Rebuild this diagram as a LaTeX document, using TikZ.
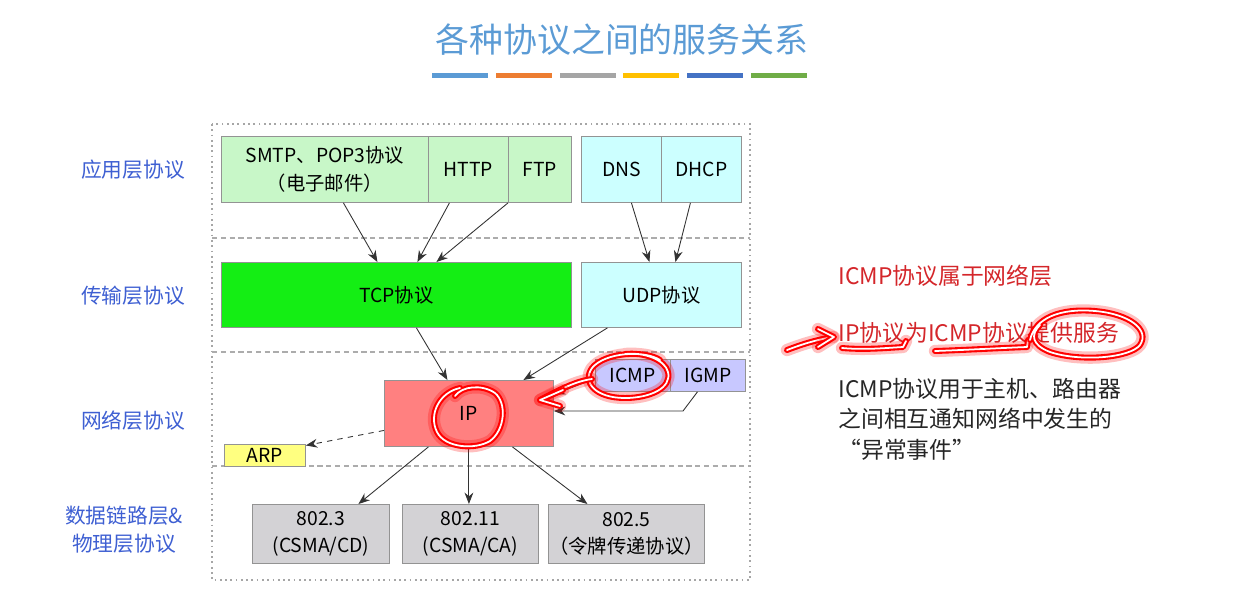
\documentclass[tikz,border=0pt]{standalone}
\usepackage{fontspec}
\setmainfont{Noto Sans CJK SC}
\usepackage{tikz}
\usetikzlibrary{arrows.meta}

\definecolor{titleblue}{RGB}{91,155,213}
\definecolor{layerblue}{RGB}{62,95,210}
\definecolor{appgreen}{RGB}{200,247,200}
\definecolor{appcyan}{RGB}{204,255,255}
\definecolor{tcpgreen}{RGB}{20,238,20}
\definecolor{ipred}{RGB}{255,128,128}
\definecolor{icmpblue}{RGB}{200,200,255}
\definecolor{arpyellow}{RGB}{255,255,128}
\definecolor{phygray}{RGB}{211,210,213}
\definecolor{notered}{RGB}{212,38,42}
\definecolor{barblue}{RGB}{91,155,213}
\definecolor{barorange}{RGB}{237,125,49}
\definecolor{bargray}{RGB}{165,165,165}
\definecolor{baryellow}{RGB}{255,192,0}
\definecolor{bardark}{RGB}{68,114,196}
\definecolor{bargreen}{RGB}{112,173,71}

\begin{document}
\begin{tikzpicture}[x=0.02cm, y=-0.02cm, >={Stealth[length=6.5pt, width=5pt]},
    box/.style={draw=gray!85, line width=0.5pt, anchor=north west, inner sep=0pt, align=center, font=\fontsize{11}{15.6}\selectfont},
    appbox/.style={box, fill=appgreen, minimum height=1.32cm},
    dnsbox/.style={box, fill=appcyan, minimum height=1.32cm},
    phybox/.style={box, fill=phygray, minimum height=1.18cm},
    layer/.style={text=layerblue, align=center, font=\fontsize{11.8}{15.8}\selectfont},
    note/.style={anchor=west, inner sep=0pt, align=left, font=\fontsize{13}{17.3}\selectfont},
    link/.style={->, draw=black!80, line width=0.5pt},
    scribble/.style={draw=red, line width=1.2pt, double=white, double distance=1pt, line cap=round, line join=round,
        preaction={draw=red, draw opacity=0.25, line width=7pt, line cap=round, line join=round}}]
    \useasboundingbox (0,0) rectangle (1250,596);

    \node [text=titleblue, font=\fontsize{19.3}{22}\selectfont] (title) at (622,40) {各种协议之间的服务关系};
    \foreach \c [count=\i] in {barblue, barorange, bargray, baryellow, bardark, bargreen}
        \fill [\c] ({432+(\i-1)*63.8},73) rectangle ++(56,5);

    \draw [gray!70, line width=0.6pt, dash pattern=on 1pt off 2pt] (212,124) rectangle (750,580);
    \foreach \y in {238, 352, 466}
        \draw [gray!65, line width=0.6pt, dash pattern=on 3pt off 2pt] (212,\y) -- (750,\y);

    \node [layer] (app) at (133,170) {应用层协议};
    \node [layer] (trans) at (133,296) {传输层协议};
    \node [layer] (net) at (133,421) {网络层协议};
    \node [layer] (link) at (124,530) {数据链路层\&\\物理层协议};

    \node [appbox, minimum width=4.14cm] (smtp) at (221,136) {SMTP、POP3协议\\（电子邮件）};
    \node [appbox, minimum width=1.6cm] (http) at (428,136) {HTTP};
    \node [appbox, minimum width=1.26cm] (ftp) at (508,136) {FTP};
    \node [dnsbox, minimum width=1.6cm] (dns) at (581,136) {DNS};
    \node [dnsbox, minimum width=1.6cm] (dhcp) at (661,136) {DHCP};

    \node [box, fill=tcpgreen, minimum width=7cm, minimum height=1.3cm] (tcp) at (221,262) {TCP协议};
    \node [box, fill=appcyan, minimum width=3.2cm, minimum height=1.3cm] (udp) at (581,262) {UDP协议};

    \node [box, fill=ipred, minimum width=3.38cm, minimum height=1.32cm] (ip) at (384,380) {IP};
    \node [box, fill=icmpblue, minimum width=1.5cm, minimum height=0.64cm] (icmp) at (595,359) {ICMP};
    \node [box, fill=icmpblue, minimum width=1.5cm, minimum height=0.64cm] (igmp) at (670,359) {IGMP};
    \node [box, fill=arpyellow, minimum width=1.62cm, minimum height=0.44cm] (arp) at (224,444) {ARP};

    \node [phybox, minimum width=2.74cm] (eth) at (252,504) {802.3\\(CSMA/CD)};
    \node [phybox, minimum width=2.72cm] (wifi) at (402,504) {802.11\\(CSMA/CA)};
    \node [phybox, minimum width=3.12cm] (ring) at (548,504) {802.5\\（令牌传递协议）};

    \draw [link] ([xshift=0.37cm]smtp.south) -- ([xshift=-0.38cm]tcp.north);
    \draw [link] ([xshift=-0.38cm]http.south) -- ([xshift=0.42cm]tcp.north);
    \draw [link] (ftp.south west) -- ([xshift=0.8cm]tcp.north);
    \draw [link] ([xshift=0.2cm]dns.south) -- ([xshift=-0.24cm]udp.north);
    \draw [link] ([xshift=-0.22cm]dhcp.south) -- ([xshift=0.28cm]udp.north);
    \draw [link] ([xshift=0.4cm]tcp.south) -- ([xshift=-0.43cm]ip.north);
    \draw [link] ([xshift=-1.08cm]udp.south) -- ([xshift=1.09cm]ip.north);
    \draw [link] ([yshift=-0.06cm]icmp.west) -- ([yshift=0.38cm]ip.east);
    \coordinate (bend) at (683,411);
    \draw [link] ([xshift=-0.21cm]igmp.south) -- (bend) -- (bend -| ip.east);
    \draw [link, dashed] ([yshift=-0.34cm]ip.west) -- ([yshift=0.2cm]arp.east);
    \draw [link] ([xshift=-0.81cm]ip.south) -- ([xshift=0.75cm]eth.north);
    \draw [link] (ip.south) -- (ip.south |- wifi.north);
    \draw [link] ([xshift=0.87cm]ip.south) -- ([xshift=-0.78cm]ring.north);

    \node [note, text=notered] (belong) at (838,276) {ICMP协议属于网络层};
    \node [note, text=notered] (serve) at (838,333) {IP协议为ICMP协议提供服务};
    \node [note, text=black!85, anchor=north west] (usage) at (838,378) {ICMP协议用于主机、路由器\\之间相互通知网络中发生的\\“异常事件”};

    \draw [scribble] (455,396) .. controls (462,386) and (482,384) .. (495,393) .. controls (507,403) and (505,430) .. (490,441)
        .. controls (475,450) and (445,448) .. (437,432) .. controls (428,414) and (440,392) .. (460,388);
    \draw [scribble] (660,360) .. controls (645,350) and (605,352) .. (592,368) .. controls (582,382) and (595,398) .. (625,398)
        .. controls (650,398) and (672,388) .. (668,372) .. controls (665,360) and (645,352) .. (625,354);
    \draw [scribble] (592,379) .. controls (575,381) and (555,392) .. (540,400);
    \draw [scribble] (563,390) -- (540,400) -- (560,406);
    \draw [scribble] (787,350) .. controls (800,345) and (815,340) .. (833,337);
    \draw [scribble] (818,329) -- (834,337) -- (818,347);
    \draw [scribble] (842,348) .. controls (865,350) and (885,348) .. (903,347) -- (906,341);
    \draw [scribble] (935,351) .. controls (965,350) and (1000,348) .. (1027,347) -- (1028,340);
    \draw [scribble] (1030,340) .. controls (1035,318) and (1060,308) .. (1095,311) .. controls (1130,314) and (1150,330) .. (1140,345)
        .. controls (1130,358) and (1080,362) .. (1050,352) .. controls (1032,345) and (1030,335) .. (1040,325);
\end{tikzpicture}
\end{document}
